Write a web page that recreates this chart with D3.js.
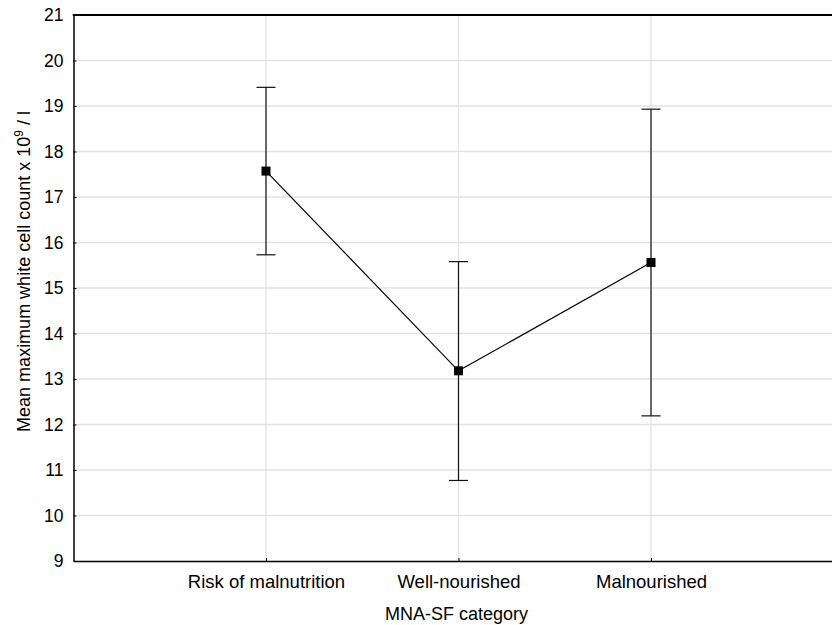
<!DOCTYPE html>
<html>
<head>
<meta charset="utf-8">
<script src="https://cdn.jsdelivr.net/npm/d3@7"></script>
<style>
  html, body { margin: 0; padding: 0; background: #fff; }
  svg { display: block; font-family: "Liberation Sans", Arial, sans-serif; }
</style>
</head>
<body>
<svg id="chart" width="832" height="625"></svg>
<script>
// Mean maximum white cell count by MNA-SF category, with error bars
const categories = ["Risk of malnutrition", "Well-nourished", "Malnourished"];
const means = [17.57, 13.18, 15.56];
const upper = [19.41, 15.58, 18.93];
const lower = [15.73, 10.77, 12.19];
const yTicks = [9, 10, 11, 12, 13, 14, 15, 16, 17, 18, 19, 20, 21];

const svg = d3.select("#chart");
const plotLeft = 73.5, plotTop = 15, plotBottom = 561;
const step = 192.5;
const fontFamily = "Liberation Sans, Arial, sans-serif";

const x = d3.scalePoint()
  .domain(["", ...categories, " "])
  .range([plotLeft, plotLeft + step * (categories.length + 1)]);

const y = d3.scaleLinear().domain([9, 21]).range([plotBottom, plotTop]);

// grid lines
const grid = svg.append("g");
grid.selectAll("line.h").data(yTicks.slice(1, -1)).join("line")
  .attr("class", "h")
  .attr("x1", plotLeft).attr("x2", 832)
  .attr("y1", d => y(d)).attr("y2", d => y(d))
  .attr("stroke", "#e2e2e2").attr("stroke-width", 1.3);
grid.selectAll("line.v").data(categories).join("line")
  .attr("class", "v")
  .attr("x1", d => x(d)).attr("x2", d => x(d))
  .attr("y1", plotTop).attr("y2", plotBottom)
  .attr("stroke", "#e2e2e2").attr("stroke-width", 1.3);

// y axis with inward ticks
const yAxis = svg.append("g")
  .attr("transform", `translate(${plotLeft},0)`)
  .call(d3.axisLeft(y).tickValues(yTicks).tickSizeInner(-3).tickSizeOuter(0).tickPadding(10));
yAxis.select(".domain").attr("stroke", "#000").attr("stroke-width", 1.5);
yAxis.selectAll(".tick line").attr("stroke", "#000");
yAxis.selectAll("text").attr("font-size", 17.5).attr("fill", "#000")
  .attr("font-family", fontFamily);

// x axis with inward ticks
const xAxis = svg.append("g")
  .attr("transform", `translate(0,${plotBottom})`)
  .call(d3.axisBottom(x).tickValues(categories).tickSizeInner(-3).tickSizeOuter(0).tickPadding(13.5));
xAxis.select(".domain").attr("stroke", "#000").attr("stroke-width", 1.5);
xAxis.selectAll(".tick line").attr("stroke", "#000");
xAxis.selectAll("text").attr("font-size", 18.5).attr("fill", "#000")
  .attr("font-family", fontFamily);

// top frame line
svg.append("line")
  .attr("x1", plotLeft - 0.75).attr("x2", 832)
  .attr("y1", plotTop).attr("y2", plotTop)
  .attr("stroke", "#000").attr("stroke-width", 2);

// error bars
const bars = svg.append("g").attr("stroke", "#111").attr("stroke-width", 1.2);
categories.forEach((c, i) => {
  const cx = x(c);
  bars.append("line").attr("x1", cx).attr("x2", cx)
    .attr("y1", y(upper[i])).attr("y2", y(lower[i]));
  bars.append("line").attr("x1", cx - 9.5).attr("x2", cx + 9.5)
    .attr("y1", y(upper[i])).attr("y2", y(upper[i]));
  bars.append("line").attr("x1", cx - 9.5).attr("x2", cx + 9.5)
    .attr("y1", y(lower[i])).attr("y2", y(lower[i]));
});

// mean line
const line = d3.line().x((d, i) => x(categories[i])).y(d => y(d));
svg.append("path").datum(means)
  .attr("d", line).attr("fill", "none")
  .attr("stroke", "#000").attr("stroke-width", 1.2);

// mean markers
svg.append("g").selectAll("rect").data(means).join("rect")
  .attr("x", (d, i) => x(categories[i]) - 4.5)
  .attr("y", d => y(d) - 4.5)
  .attr("width", 9).attr("height", 9)
  .attr("fill", "#000");

// axis titles
svg.append("text")
  .attr("x", 456.5).attr("y", 619.5)
  .attr("text-anchor", "middle").attr("font-size", 18)
  .attr("font-family", fontFamily)
  .text("MNA-SF category");

const yt = svg.append("text")
  .attr("transform", "translate(29.5,271.5) rotate(-90)")
  .attr("text-anchor", "middle").attr("font-size", 18)
  .attr("font-family", fontFamily);
yt.append("tspan").text("Mean maximum white cell count x 10");
yt.append("tspan").attr("dy", -7).attr("font-size", 12).text("9");
yt.append("tspan").attr("dy", 7).text(" / l");
</script>
</body>
</html>
